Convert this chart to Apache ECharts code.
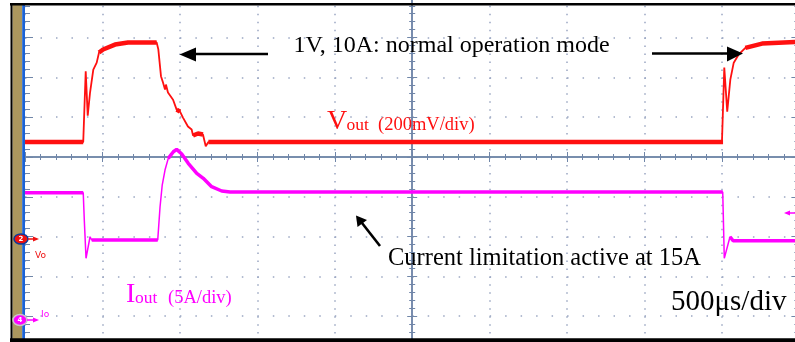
<!DOCTYPE html>
<html><head><meta charset="utf-8">
<script src="https://cdn.jsdelivr.net/npm/echarts@6/dist/echarts.min.js"></script>
<style>html,body{margin:0;padding:0;background:#fff;overflow:hidden}#c{width:795px;height:342px}</style>
</head><body><div id="c"></div>
<script>
// Time in µs from left edge of screen (500 µs/div)
const voutTime = [0, 376, 392, 405, 420, 441, 463, 478, 504, 581, 665, 850, 861, 878, 891, 904, 910, 923, 956, 979, 1001, 1020, 1052, 1076, 1085, 1117, 1149, 1167, 1184, 4500, 4507, 4515, 4534, 4554, 4576, 4608, 4651, 4759, 4972, 5000];
// Vout in volts (200 mV/div)
const voutVolt = [0.485, 0.485, 0.841, 0.618, 0.734, 0.849, 0.884, 0.935, 0.950, 0.975, 0.985, 0.986, 0.950, 0.816, 0.784, 0.749, 0.774, 0.734, 0.698, 0.648, 0.638, 0.608, 0.563, 0.548, 0.518, 0.528, 0.523, 0.464, 0.485, 0.485, 0.485, 0.859, 0.638, 0.799, 0.884, 0.925, 0.958, 0.980, 0.988, 0.988];
const ioutTime = [0, 376, 383, 394, 420, 431, 857, 872, 886, 904, 925, 958, 979, 1012, 1054, 1109, 1151, 1205, 1270, 1324, 4505, 4515, 4552, 4572, 5000];
// Iout in amperes (5 A/div)
const ioutAmp = [16.0, 16.0, 12.5, 7.75, 10.46, 10.05, 10.05, 14.23, 16.96, 18.84, 20.31, 21.14, 21.44, 20.85, 19.69, 18.43, 17.80, 16.75, 16.21, 16.08, 16.08, 7.75, 10.46, 9.96, 9.96];

const T_RANGE = [0, 5000];
const V_RANGE = [-0.59, 1.21];
const I_RANGE = [-4.52, 40.48];
const DIV_X = [-5, 5];
const DIV_Y = [-5, 4];

const GRID = {left: 25, top: -2.2, width: 774.4, height: 358.2};
const pxT = GRID.width / (T_RANGE[1] - T_RANGE[0]);
const pxV = GRID.height / (V_RANGE[1] - V_RANGE[0]);
const pxI = GRID.height / (I_RANGE[1] - I_RANGE[0]);

function zip(a, b) { return a.map((x, i) => [x, b[i]]); }
function band(ts, vs, pxY, k) {
  const out = []; let last = -1;
  for (let i = 0; i < ts.length - 1; i++) {
    const dx = (ts[i+1] - ts[i]) * pxT, dy = Math.abs(vs[i+1] - vs[i]) * pxY;
    if (dy <= k * dx) {
      if (last !== i) { if (out.length) out.push(null); out.push([ts[i], vs[i]]); }
      out.push([ts[i+1], vs[i+1]]); last = i + 1;
    }
  }
  return out;
}

const dotCol = '#9aa6c2';
const axCol = '#7086a8';
const RED = '#ff1010', MAG = '#ff00ff';
const SERIF = '"Liberation Serif", "DejaVu Serif", serif';

function divAxisX(pos) {
  return {type: 'value', gridIndex: 0, min: DIV_X[0], max: DIV_X[1], interval: 1, position: pos,
    axisLine: {show: true, onZero: true, onZeroAxisIndex: 0, lineStyle: {color: axCol, width: 1.5}},
    axisTick: {show: true, length: 5, lineStyle: {color: axCol, width: 1}},
    minorTick: {show: true, splitNumber: 5, length: 3, lineStyle: {color: axCol, width: 1}},
    axisLabel: {show: false}, splitLine: {show: false}};
}
function divAxisY(pos) {
  return {type: 'value', gridIndex: 0, min: DIV_Y[0], max: DIV_Y[1], interval: 1, position: pos,
    axisLine: {show: true, onZero: true, onZeroAxisIndex: 1, lineStyle: {color: axCol, width: 1.5}},
    axisTick: {show: true, length: 5, lineStyle: {color: axCol, width: 1}},
    minorTick: {show: true, splitNumber: 5, length: 3, lineStyle: {color: axCol, width: 1}},
    axisLabel: {show: false}, splitLine: {show: false}};
}
function edgeAxisY(pos) {
  return {type: 'value', gridIndex: 0, min: DIV_Y[0], max: DIV_Y[1], interval: 1, position: pos,
    axisLine: {show: false, onZero: false},
    axisTick: {show: true, inside: true, length: 8, lineStyle: {color: axCol, width: 1}},
    minorTick: {show: true, splitNumber: 5, length: 5, lineStyle: {color: axCol, width: 1}},
    axisLabel: {show: false}, splitLine: {show: false}};
}

function txt(x, baseline, s, size, color, family) {
  return {type: 'text', z: 50, style: {text: s, x: x, y: baseline - 0.34 * size,
    font: size + 'px ' + (family || SERIF), fill: color, align: 'left', verticalAlign: 'middle'}};
}
function arrowHead(tip, b1, b2, color, z) {
  return {type: 'polygon', z: z || 50, shape: {points: [tip, b1, b2]}, style: {fill: color}};
}

const chart = echarts.init(document.getElementById('c'), null, {renderer: 'canvas'});
chart.setOption({
  animation: false,
  backgroundColor: '#ffffff',
  grid: {left: GRID.left, top: GRID.top, width: GRID.width, height: GRID.height, containLabel: false, outerBoundsMode: 'none'},
  xAxis: [
    {type: 'value', gridIndex: 0, min: T_RANGE[0], max: T_RANGE[1], interval: 500, position: 'bottom',
      axisLine: {show: false, onZero: false}, axisTick: {show: false}, axisLabel: {show: false},
      splitLine: {show: true, lineStyle: {color: dotCol, width: 1.5, type: [1.5, GRID.height / 45 - 1.5]}}},
    divAxisX('bottom'),
    divAxisX('top')
  ],
  yAxis: [
    {type: 'value', gridIndex: 0, min: DIV_Y[0], max: DIV_Y[1], interval: 1, position: 'left',
      axisLine: {show: false, onZero: false}, axisTick: {show: false}, axisLabel: {show: false},
      splitLine: {show: true, lineStyle: {color: dotCol, width: 1.5, type: [1.5, GRID.width / 50 - 1.5]}}},
    {type: 'value', gridIndex: 0, min: DIV_X[0], max: DIV_X[1], show: false},
    divAxisY('left'),
    divAxisY('right'),
    edgeAxisY('left'),
    edgeAxisY('right'),
    {type: 'value', gridIndex: 0, min: V_RANGE[0], max: V_RANGE[1], show: false},
    {type: 'value', gridIndex: 0, min: I_RANGE[0], max: I_RANGE[1], show: false}
  ],
  series: [
    {type: 'line', xAxisIndex: 0, yAxisIndex: 7, data: zip(ioutTime, ioutAmp), showSymbol: false, z: 3,
      lineStyle: {color: MAG, width: 1.5}},
    {type: 'line', xAxisIndex: 0, yAxisIndex: 7, data: band(ioutTime, ioutAmp, pxI, 1.5), showSymbol: false, z: 3,
      connectNulls: false, lineStyle: {color: MAG, width: 3.5}},
    {type: 'line', xAxisIndex: 0, yAxisIndex: 6, data: zip(voutTime, voutVolt), showSymbol: false, z: 4,
      lineStyle: {color: RED, width: 1.8}},
    {type: 'line', xAxisIndex: 0, yAxisIndex: 6, data: band(voutTime, voutVolt, pxV, 0.8), showSymbol: false, z: 4,
      connectNulls: false, lineStyle: {color: RED, width: 4.5}}
  ],
  graphic: {elements: [
    // frame
    {type: 'rect', z: 100, shape: {x: 10, y: 3, width: 785, height: 2.6}, style: {fill: '#000'}},
    {type: 'rect', z: 100, shape: {x: 10, y: 338.2, width: 785, height: 4}, style: {fill: '#000'}},
    {type: 'rect', z: 100, shape: {x: 10.5, y: 3, width: 2, height: 339}, style: {fill: '#000'}},
    {type: 'rect', z: 99, shape: {x: 12.5, y: 5, width: 9.7, height: 334}, style: {fill: '#ab975e'}},
    {type: 'rect', z: 99, shape: {x: 22.2, y: 5, width: 2.8, height: 334}, style: {fill: '#1a62d6'}},
    // channel markers
    {type: 'ellipse', z: 101, shape: {cx: 21, cy: 239, rx: 7, ry: 5}, style: {fill: '#ee1010', stroke: '#0c3a9a', lineWidth: 1.5}},
    {type: 'text', z: 102, style: {text: '2', x: 21, y: 239, font: 'bold 7px "DejaVu Sans"', fill: '#fff', align: 'center', verticalAlign: 'middle'}},
    {type: 'line', z: 101, shape: {x1: 28, y1: 239, x2: 34, y2: 239}, style: {stroke: '#ee1010', lineWidth: 1.5}},
    arrowHead([39, 239], [33, 236.5], [33, 241.5], '#ee1010', 101),
    {type: 'text', z: 101, style: {text: 'Vo', x: 35, y: 256, font: '9px "DejaVu Sans"', fill: '#ee1010', align: 'left', verticalAlign: 'middle'}},
    {type: 'ellipse', z: 101, shape: {cx: 20, cy: 320, rx: 7, ry: 5.5}, style: {fill: MAG, stroke: '#c8c8c8', lineWidth: 1.5}},
    {type: 'text', z: 102, style: {text: '4', x: 20, y: 320, font: 'bold 7px "DejaVu Sans"', fill: '#fff', align: 'center', verticalAlign: 'middle'}},
    {type: 'line', z: 101, shape: {x1: 27, y1: 320, x2: 34, y2: 320}, style: {stroke: MAG, lineWidth: 1.5}},
    arrowHead([39, 320], [33, 317.5], [33, 322.5], MAG, 101),
    {type: 'text', z: 101, style: {text: 'Io', x: 41, y: 315, font: '9px "DejaVu Sans"', fill: MAG, align: 'left', verticalAlign: 'middle'}},
    // right trigger marker
    {type: 'line', z: 101, shape: {x1: 789, y1: 213, x2: 795, y2: 213}, style: {stroke: MAG, lineWidth: 1.5}},
    arrowHead([784, 213], [790, 210.5], [790, 215.5], MAG, 101),
    // annotation arrows
    {type: 'line', z: 50, shape: {x1: 268, y1: 54, x2: 194, y2: 54}, style: {stroke: '#000', lineWidth: 2.6}},
    arrowHead([179.5, 54.5], [196, 47.5], [196, 61.5], '#000'),
    {type: 'line', z: 50, shape: {x1: 652, y1: 53.5, x2: 730, y2: 53.5}, style: {stroke: '#000', lineWidth: 2.6}},
    arrowHead([743, 53.5], [727, 46.5], [727, 61.5], '#000'),
    {type: 'line', z: 50, shape: {x1: 380, y1: 246, x2: 362, y2: 223}, style: {stroke: '#000', lineWidth: 2.6}},
    arrowHead([356, 215.5], [357.5, 227], [367, 220], '#000'),
    // texts
    txt(293.5, 54, '1V, 10A: normal operation mode', 24, '#000'),
    txt(327, 131.5, 'V', 28, RED),
    txt(346.5, 131.5, 'out', 17.5, RED),
    txt(378, 131.5, '(200mV/div)', 18.5, RED),
    txt(388, 267, 'Current limitation active at 15A', 24.5, '#000'),
    txt(126, 304, 'I', 28, MAG),
    txt(135, 304, 'out', 17.5, MAG),
    txt(168, 304, '(5A/div)', 18.5, MAG),
    txt(671, 312, '500μs/div', 29, '#000')
  ]}
});
</script>
</body></html>
